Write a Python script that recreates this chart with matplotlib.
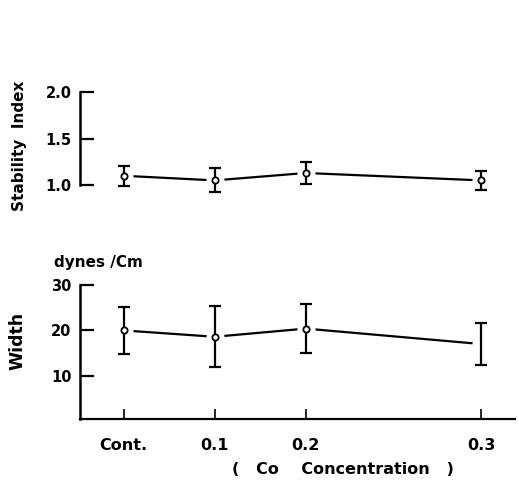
import matplotlib
matplotlib.use("Agg")
import matplotlib.pyplot as plt

categories = ["Cont.", "0.1", "0.2", "0.3"]
stability_mean = [1.10, 1.05, 1.13, 1.05]
stability_err = [0.11, 0.13, 0.12, 0.10]
width_mean = [20.0, 18.6, 20.4, 17.0]
width_err = [5.2, 6.7, 5.4, 4.7]

# horizontal placement of the categories (0.3 drawn further right as in the original)
xpos = [0, 1, 2, 3.93]

plt.rcParams['font.family'] = ['DejaVu Sans']
plt.rcParams['font.weight'] = 'bold'
plt.rcParams['axes.labelweight'] = 'bold'

fig = plt.figure(figsize=(5.19, 4.86), dpi=100)
left, width_ax = 80 / 519, 435 / 519
ax1 = fig.add_axes([left, 1 - 198.9 / 486, width_ax, (198.9 - 92.5) / 486])
ax2 = fig.add_axes([left, 1 - 419 / 486, width_ax, (419 - 285) / 486])

xlim = (-0.48, 4.30)

def draw(ax, mean, err, marker_idx):
    ax.plot(xpos, mean, color='black', lw=1.6, zorder=1)
    ax.plot(xpos, mean, ls='none', marker='o', ms=13, mfc='white', mec='none', zorder=2)
    ax.errorbar(xpos, mean, yerr=err, fmt='none', ecolor='black', elinewidth=1.6,
                capsize=4.5, capthick=1.6, zorder=3)
    ax.plot([xpos[i] for i in marker_idx], [mean[i] for i in marker_idx], ls='none',
            marker='o', ms=4.5, mfc='white', mec='black', mew=1.3, zorder=4)
    ax.set_xlim(*xlim)
    for s in ['top', 'right']:
        ax.spines[s].set_visible(False)
    ax.spines['left'].set_linewidth(1.8)
    ax.tick_params(axis='y', direction='in', length=10, width=1.6, pad=6, labelsize=10.5)

# Top panel: Stability Index
draw(ax1, stability_mean, stability_err, [0, 1, 2, 3])
ax1.set_ylim(0.85, 2.0)
ax1.spines['left'].set_bounds(1.0, 2.0)
ax1.spines['bottom'].set_visible(False)
ax1.set_yticks([1.0, 1.5, 2.0])
ax1.set_yticklabels(["1.0", "1.5", "2.0"])
ax1.set_xticks([])
ax1.set_ylabel("Stability  Index", fontsize=11)
ax1.yaxis.set_label_coords(-0.122, 0.50)

# Bottom panel: Width
draw(ax2, width_mean, width_err, [0, 1, 2])
ax2.set_ylim(0.5, 30)
ax2.set_yticks([10, 20, 30])
ax2.set_yticklabels(["10", "20", "30"])
ax2.spines['bottom'].set_linewidth(1.6)
ax2.set_xticks(xpos)
ax2.set_xticklabels(categories)
ax2.tick_params(axis='x', direction='in', length=7, width=1.2, pad=14, labelsize=11.5)
ax2.set_ylabel("Width", fontsize=12.5)
ax2.yaxis.set_label_coords(-0.122, 0.58)
ax2.set_xlabel("(   Co    Concentration   )", fontsize=11.5)
ax2.xaxis.set_label_coords((343 - 80) / 435, -0.32)
ax2.text(-0.06, 1.17, "dynes /Cm", transform=ax2.transAxes, fontsize=11,
         ha='left', va='center')

fig.savefig("out.png", dpi=100)
